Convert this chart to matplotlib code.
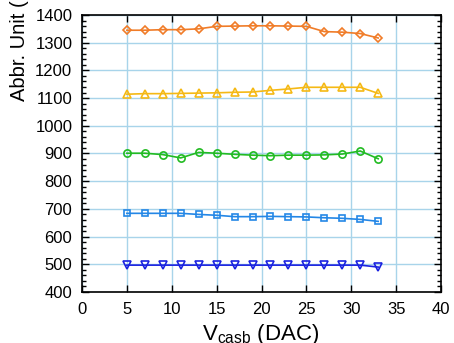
import matplotlib
matplotlib.use('Agg')
import matplotlib.pyplot as plt
from matplotlib.ticker import MultipleLocator

plt.rcParams['font.family'] = ['Liberation Sans', 'DejaVu Sans']
plt.rcParams['mathtext.fontset'] = 'custom'
plt.rcParams['mathtext.rm'] = 'Liberation Sans'

# Scan points of the DAC setting
vcasb = [5, 7, 9, 11, 13, 15, 17, 19, 21, 23, 25, 27, 29, 31, 33]

# One series per configuration
orange_vals = [1345, 1345, 1347, 1347, 1350, 1359, 1360, 1361, 1361, 1360, 1359, 1340, 1338, 1333, 1317]
yellow_vals = [1114, 1116, 1116, 1117, 1118, 1119, 1121, 1122, 1128, 1133, 1139, 1139, 1139, 1139, 1117]
green_vals = [901, 901, 896, 884, 904, 901, 897, 894, 892, 894, 894, 895, 898, 909, 881]
blue_vals = [684, 684, 684, 684, 680, 677, 672, 672, 673, 672, 671, 668, 666, 662, 655]
navy_vals = [497, 497, 497, 497, 497, 497, 497, 497, 497, 497, 497, 497, 497, 497, 490]

series = [
    (orange_vals, '#f07c28', 'D', 4.2),
    (yellow_vals, '#f5b915', '^', 5.5),
    (green_vals, '#22bb22', 'o', 5.2),
    (blue_vals, '#2487e6', 's', 4.8),
    (navy_vals, '#1a22e0', 'v', 5.5),
]

fig = plt.figure(figsize=(4.54, 3.43), dpi=100)
ax = fig.add_axes([0.1806, 0.1487, 0.7908, 0.8076])

for vals, color, marker, ms in series:
    ax.plot(vcasb, vals, color=color, marker=marker, markersize=ms,
            markerfacecolor='none', markeredgecolor=color,
            markeredgewidth=1.2, linewidth=1.2)

ax.set_xlim(0, 40)
ax.set_ylim(400, 1400)
ax.xaxis.set_major_locator(MultipleLocator(5))
ax.yaxis.set_major_locator(MultipleLocator(100))
ax.yaxis.set_minor_locator(MultipleLocator(20))

ax.grid(True, which='major', color='#a8d4ea', linewidth=1.0)
ax.set_axisbelow(True)

ax.tick_params(which='both', direction='in', top=True, right=True,
               labelsize=12, width=1)
ax.tick_params(which='major', length=5, pad=7)
ax.tick_params(which='minor', length=3)
ax.tick_params(axis='x', which='minor', bottom=False, top=False)
for sp in ax.spines.values():
    sp.set_linewidth(1.2)

# x label sits low, subscript runs past the bottom edge
fig.text(0.573, 3 / 343, r'V$_{\mathrm{casb}}$ (DAC)', ha='center',
         va='baseline', fontsize=16)
fig.text(0.042, 1 - 101 / 343, 'Abbr. Unit (U)', rotation=90,
         ha='center', va='bottom', fontsize=14.5)

fig.savefig('out.png', dpi=100)
